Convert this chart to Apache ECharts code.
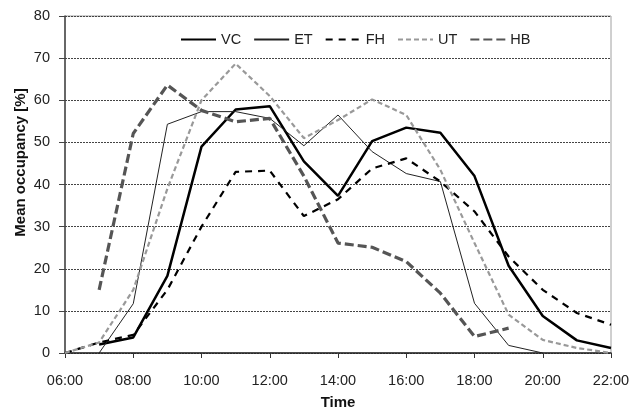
<!DOCTYPE html>
<html><head><meta charset="utf-8">
<script src="https://cdn.jsdelivr.net/npm/echarts@6/dist/echarts.min.js"></script>
<style>html,body{margin:0;padding:0;background:#fff}#c{width:641px;height:412px}</style>
</head><body><div id="c"></div>
<script>
var hours = ['06:00','07:00','08:00','09:00','10:00','11:00','12:00','13:00','14:00','15:00','16:00','17:00','18:00','19:00','20:00','21:00','22:00'];
var VC = [null, 2.0, 3.7, 18.3, 49.0, 57.8, 58.6, 45.5, 37.3, 50.3, 53.5, 52.3, 42.0, 20.7, 8.8, 3.0, 1.2];
var ET = [null, 0, 11.7, 54.3, 57.3, 57.3, 55.7, 49.2, 56.5, 47.8, 42.6, 40.7, 11.8, 1.8, 0, null, null];
var FH = [0, 2.5, 4.3, 15.0, 30.0, 43.0, 43.3, 32.5, 36.5, 43.8, 46.2, 40.7, 33.6, 22.9, 15.0, 9.5, 6.7];
var UT = [0, 2.5, 15.0, 39.0, 60.0, 68.7, 61.0, 51.0, 55.3, 60.2, 56.5, 43.5, 26.1, 9.1, 3.1, 1.2, 0];
var HB = [null, 15.0, 52.1, 63.6, 57.6, 54.9, 55.7, 42.0, 26.1, 25.1, 21.7, 14.2, 3.9, 5.9, null, null, null];

var chart = echarts.init(document.getElementById('c'));
var font = '"Liberation Sans", Arial, sans-serif';
function s(name, data, color, width, type) {
  return {name: name, type: 'line', data: data, symbol: 'none', connectNulls: false,
    lineStyle: {color: color, width: width, type: type}, itemStyle: {color: color}, animation: false};
}
chart.setOption({
  backgroundColor: '#fff',
  animation: false,
  grid: {left: 65, right: 30, top: 16, bottom: 59, show: true, borderColor: '#a0a0a0', borderWidth: 1,
    containLabel: false, outerBoundsMode: 'none'},
  legend: {
    top: 27, left: 175, itemGap: 12, itemWidth: 35, itemHeight: 10,
    itemStyle: {opacity: 0},
    textStyle: {fontFamily: font, fontSize: 14.5, color: '#222'},
    data: ['VC','ET','FH','UT','HB']
  },
  xAxis: {
    type: 'category', data: hours, boundaryGap: false,
    name: 'Time', nameLocation: 'middle', nameGap: 42, nameMoveOverlap: false,
    nameTextStyle: {fontFamily: font, fontSize: 15, fontWeight: 'bold', color: '#111'},
    axisLine: {lineStyle: {color: '#222', width: 1.5}},
    axisTick: {interval: 1, length: 5, lineStyle: {color: '#333'}},
    axisLabel: {interval: 1, fontFamily: font, fontSize: 14.5, color: '#222', margin: 20},
    splitLine: {show: false}
  },
  yAxis: {
    type: 'value', min: 0, max: 80, interval: 10,
    name: 'Mean occupancy [%]', nameLocation: 'middle', nameGap: 37, nameMoveOverlap: false,
    nameTextStyle: {fontFamily: font, fontSize: 15, fontWeight: 'bold', color: '#111', padding: [0, 0, 0, 44]},
    axisLine: {show: true, lineStyle: {color: '#444', width: 1.5}},
    axisTick: {show: true, length: 6, lineStyle: {color: '#444'}},
    axisLabel: {fontFamily: font, fontSize: 14.5, color: '#222', margin: 15},
    splitLine: {show: true, lineStyle: {color: '#444', type: [2, 1], width: 1}}
  },
  series: [
    s('VC', VC, '#000', 2.5, 'solid'),
    s('ET', ET, '#222', 1, 'solid'),
    s('FH', FH, '#000', 2.2, [7, 6]),
    s('UT', UT, '#999', 2.2, [5, 3]),
    s('HB', HB, '#555', 3.2, [9, 4])
  ]
});
</script></body></html>
